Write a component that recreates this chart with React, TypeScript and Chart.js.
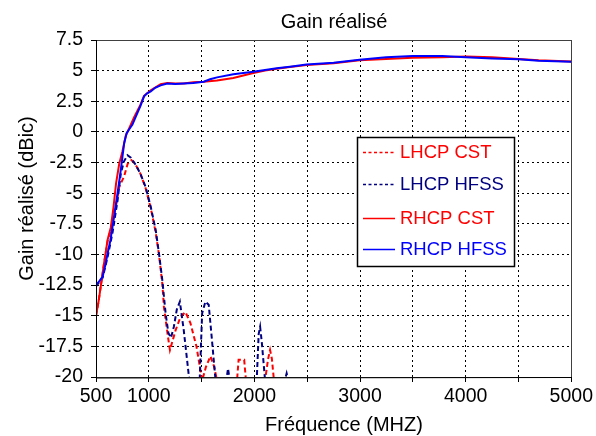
import React, { useEffect, useRef } from "react";
import { Chart, registerables } from "chart.js";

Chart.register(...registerables);

const FONT = '"Liberation Sans", Arial, sans-serif';

const chartTitle = "Gain réalisé";
const xTitle = "Fréquence (MHZ)";
const yTitle = "Gain réalisé (dBic)";

const xLabelled = [500, 1000, 2000, 3000, 4000, 5000];

const rhcpHfssFreq = [500, 530, 563, 590, 610, 635, 657, 680, 704, 730, 751, 767, 790, 813, 845, 880, 920, 955, 985, 1018, 1060, 1112, 1175, 1250, 1331, 1420, 1520, 1580, 1646, 1800, 1990, 2100, 2211, 2336, 2493, 2750, 2995, 3247, 3497, 3780, 4000, 4250, 4502, 4690, 5000];
const rhcpHfssGain = [-12.5, -12.2, -11.8, -10.8, -9.9, -8.9, -7.7, -6.4, -5.0, -3.4, -2.0, -0.9, -0.1, 0.2, 0.6, 1.3, 2.1, 2.9, 3.15, 3.3, 3.6, 3.8, 3.95, 3.9, 3.95, 4.0, 4.1, 4.3, 4.45, 4.7, 4.9, 5.05, 5.2, 5.32, 5.5, 5.65, 5.88, 6.1, 6.2, 6.2, 6.1, 6.0, 5.93, 5.81, 5.73];

const rhcpCstFreq = [500, 525, 550, 575, 610, 640, 665, 690, 720, 750, 782, 820, 861, 920, 955, 1018, 1112, 1175, 1250, 1331, 1420, 1520, 1646, 1800, 1990, 2100, 2211, 2336, 2493, 2750, 2995, 3247, 3497, 3780, 4000, 4250, 4502, 4690, 5000];
const rhcpCstGain = [-15, -13.8, -12.3, -10.8, -8.8, -7.8, -6.2, -4.2, -2.6, -1.6, -0.3, 0.4, 1.2, 2.2, 2.95, 3.4, 3.9, 4.0, 3.95, 3.95, 4.05, 4.1, 4.2, 4.4, 4.8, 5.0, 5.15, 5.3, 5.45, 5.6, 5.85, 5.95, 6.05, 6.1, 6.15, 6.1, 5.95, 5.85, 5.75];

const lhcpHfssFreq = [500, 563, 610, 657, 704, 735, 765, 798, 830, 877, 920, 970, 1018, 1065, 1096, 1128, 1159, 1185, 1210, 1237, 1265, 1294, 1331, 1379, 1430, 1482, 1505, 1536, 1567, 1598, 1630, 1690, 1735, 1750, 1765, 1880, 2022, 2040, 2054, 2070, 2100, 2200, 2290, 2305, 2320, 2400];
const lhcpHfssGain = [-12.6, -11.9, -10.2, -8.2, -5.6, -3.4, -2.4, -1.9, -2.1, -2.7, -3.4, -4.5, -6.1, -8.0, -9.9, -12.1, -14.8, -16.4, -16.8, -15.9, -14.5, -13.85, -16.2, -19.9, -23, -20.1, -14.8, -13.85, -14.1, -17.0, -20.1, -23, -20.2, -19.3, -20.2, -23, -20.2, -16.5, -15.9, -17.2, -20.2, -23, -20.2, -19.7, -20.2, -24];

const lhcpCstFreq = [500, 525, 550, 575, 610, 640, 690, 720, 767, 800, 835, 870, 920, 970, 1018, 1065, 1096, 1128, 1143, 1181, 1200, 1253, 1300, 1347, 1394, 1451, 1505, 1540, 1583, 1620, 1646, 1740, 1835, 1850, 1903, 1920, 2010, 2100, 2130, 2148, 2165, 2185, 2260];
const lhcpCstGain = [-15, -13.8, -12.3, -10.8, -8.9, -8.0, -6.0, -4.5, -3.6, -2.6, -2.3, -2.6, -3.4, -4.6, -6.2, -8.2, -10.0, -12.4, -14.3, -16.7, -17.8, -16.2, -15.1, -14.7, -15.6, -17.5, -20.3, -19.2, -18.3, -19.2, -20.3, -23, -20.3, -18.6, -18.6, -20.3, -23, -20.3, -18.5, -17.8, -18.5, -20.3, -24];

const legendNames = ["LHCP CST", "LHCP HFSS", "RHCP CST", "RHCP HFSS"];
const legendColors = ["#ff0000", "#000080", "#ff0000", "#0000ff"];
const legendDashed = [true, true, false, false];

const pts = (xs: number[], ys: number[]) => xs.map((x, i) => ({ x, y: ys[i] }));

const decorPlugin = {
  id: "decor",
  afterDraw(chart: any) {
    const { ctx, chartArea } = chart;
    const { left, right, top, bottom } = chartArea;
    ctx.save();
    // frame
    ctx.strokeStyle = "#404040";
    ctx.lineWidth = 1;
    ctx.setLineDash([]);
    ctx.strokeRect(Math.round(left) + 0.5, Math.round(top) + 0.5, Math.round(right - left), Math.round(bottom - top));
    ctx.strokeStyle = "#000";
    ctx.beginPath();
    ctx.moveTo(Math.round(left) + 0.5, Math.round(top));
    ctx.lineTo(Math.round(left) + 0.5, Math.round(bottom) + 1);
    ctx.lineTo(Math.round(right) + 1, Math.round(bottom) + 0.5);
    ctx.stroke();

    // titles
    ctx.fillStyle = "#000";
    ctx.textAlign = "center";
    ctx.textBaseline = "alphabetic";
    ctx.font = `20px ${FONT}`;
    ctx.fillText(chartTitle, 334, 28);
    ctx.fillText(xTitle, 344, 431);
    ctx.save();
    ctx.translate(33, 198.5);
    ctx.rotate(-Math.PI / 2);
    ctx.fillText(yTitle, 0, 0);
    ctx.restore();

    // legend
    const bx = 357.5, by = 137.5, bw = 157, bh = 129;
    ctx.fillStyle = "#fff";
    ctx.fillRect(bx, by, bw, bh);
    ctx.strokeStyle = "#000";
    ctx.lineWidth = 1.5;
    ctx.strokeRect(bx, by, bw, bh);
    const rows = [152, 184, 218, 249];
    ctx.font = `18.5px ${FONT}`;
    ctx.textAlign = "left";
    ctx.textBaseline = "middle";
    legendNames.forEach((name, i) => {
      const y = rows[i];
      ctx.strokeStyle = legendColors[i];
      ctx.lineWidth = 1.5;
      ctx.setLineDash(legendDashed[i] ? [3, 2.5] : []);
      ctx.beginPath();
      ctx.moveTo(363, y + 0.5);
      ctx.lineTo(395, y + 0.5);
      ctx.stroke();
      ctx.setLineDash([]);
      ctx.fillStyle = legendColors[i];
      ctx.fillText(name, 400, y + 1);
    });
    ctx.restore();
  },
};

export default function App() {
  const ref = useRef<HTMLCanvasElement | null>(null);
  useEffect(() => {
    document.body.style.margin = "0";
    const canvas = ref.current;
    if (!canvas) return;
    const chart = new Chart(canvas, {
      type: "line",
      data: {
        datasets: [
          { label: "RHCP HFSS", data: pts(rhcpHfssFreq, rhcpHfssGain), borderColor: "#0000ff", borderWidth: 2, pointRadius: 0, clip: 0 },
          { label: "RHCP CST", data: pts(rhcpCstFreq, rhcpCstGain), borderColor: "#ff0000", borderWidth: 2, pointRadius: 0, clip: 0 },
          { label: "LHCP HFSS", data: pts(lhcpHfssFreq, lhcpHfssGain), borderColor: "#000080", borderWidth: 2, borderDash: [5, 3], pointRadius: 0, clip: 0 },
          { label: "LHCP CST", data: pts(lhcpCstFreq, lhcpCstGain), borderColor: "#ff0000", borderWidth: 2, borderDash: [5, 3], pointRadius: 0, clip: 0 },
        ],
      },
      options: {
        responsive: false,
        animation: false,
        devicePixelRatio: 1,
        layout: { padding: { top: 40, right: 24, left: 0, bottom: 0 } },
        plugins: { legend: { display: false }, title: { display: false }, tooltip: { enabled: false } },
        scales: {
          x: {
            type: "linear",
            min: 500,
            max: 5000,
            afterFit: (s: any) => { s.height = 59; },
            ticks: {
              stepSize: 500,
              autoSkip: false,
              maxRotation: 0,
              padding: 3,
              color: "#000",
              font: { family: FONT, size: 19.5 },
              callback: (v: any) => (xLabelled.includes(Number(v)) ? String(v) : ""),
            },
            grid: { color: "#000", lineWidth: 1, tickLength: 5, tickColor: "#000", tickBorderDash: [] },
            border: { display: true, color: "#000", width: 1, dash: [2, 3] },
          },
          y: {
            type: "linear",
            min: -20,
            max: 7.5,
            afterFit: (s: any) => { s.width = 96; },
            ticks: {
              stepSize: 2.5,
              padding: 8,
              color: "#000",
              font: { family: FONT, size: 19.5 },
              callback: (v: any) => String(Math.round(Number(v) * 10) / 10),
            },
            grid: { color: "#000", lineWidth: 1, tickLength: 5, tickColor: "#000", tickBorderDash: [] },
            border: { display: true, color: "#000", width: 1, dash: [2, 3] },
          },
        },
      },
      plugins: [decorPlugin],
    } as any);
    return () => chart.destroy();
  }, []);
  return (
    <div style={{ position: "fixed", left: 0, top: 0 }}>
      <canvas ref={ref} width={596} height={436} style={{ display: "block" }} />
    </div>
  );
}
